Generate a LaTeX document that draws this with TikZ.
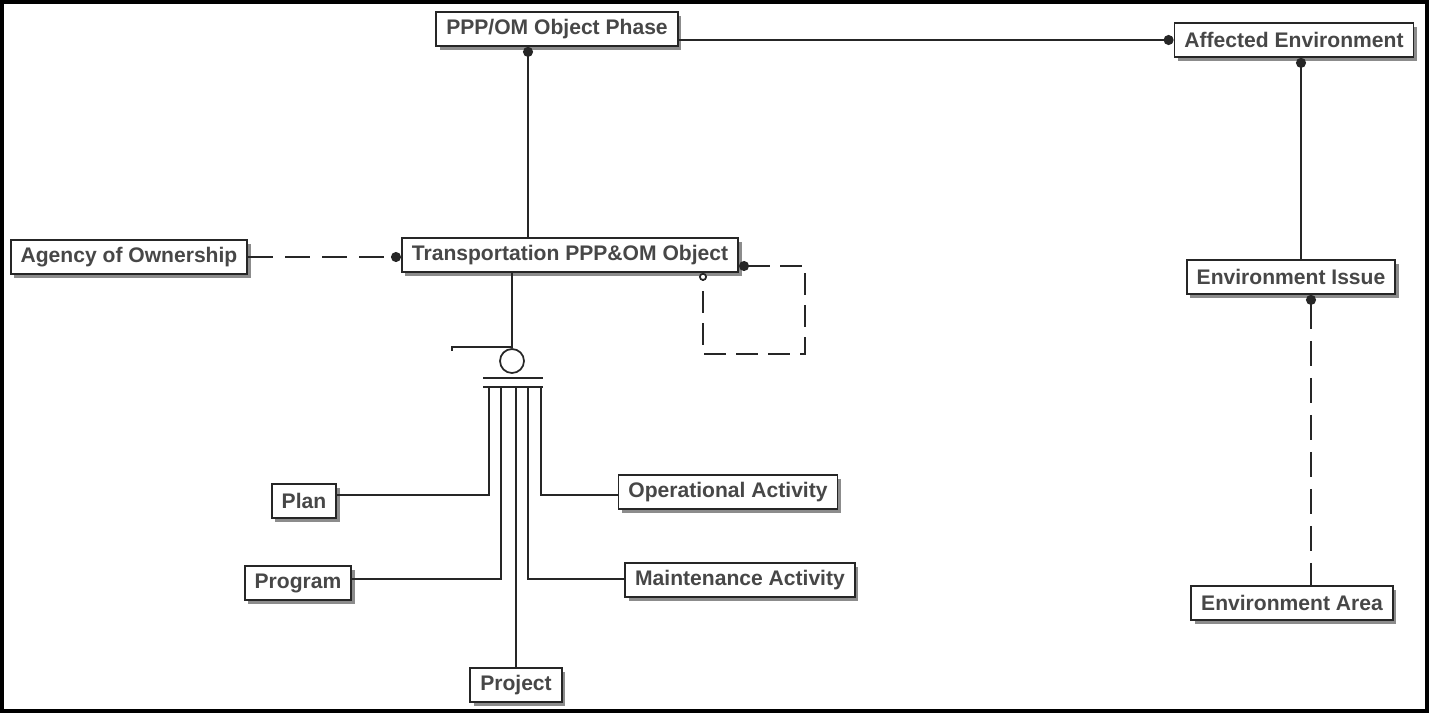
\documentclass[tikz,border=0pt]{standalone}
\usepackage{fontspec}
\setmainfont{Liberation Sans}
\usetikzlibrary{calc,shadows,arrows.meta}

\tikzset{
	ent/.style={draw=black!85, line width=0.35mm, fill=white, text=black!72,
		font=\bfseries\fontsize{12}{14}\selectfont, minimum height=0.68cm, inner xsep=0.2cm,
		drop shadow={shadow xshift=0.07cm, shadow yshift=-0.07cm, fill=black!45, opacity=1}},
	rel/.style={line width=0.35mm, color=black!85},
	dsh/.style={rel, dash pattern=on 0.5cm off 0.24cm},
	dot/.style={{Circle[length=0.2cm]}-},
}

\begin{document}
\begin{tikzpicture}[x=0.02cm, y=-0.02cm]
			%%%%% START %%%%%
			
			\useasboundingbox (0,0) rectangle (1430,714);
			\draw[line width=0.7mm] (2,2) rectangle (1427,711);
			
			\node[ent] (phase) at (557,29) {PPP/OM Object Phase};
			\node[ent] (affect) at (1294,40) {Affected Environment};
			\node[ent] (agency) at (129,257) {Agency of Ownership};
			\node[ent] (trans) at (570,255) {Transportation PPP\&OM Object};
			\node[ent] (issue) at (1291,277) {Environment Issue};
			\node[ent] (area) at (1292,603) {Environment Area};
			
			\node[ent] (plan) at (304,501) {Plan};
			\node[ent] (program) at (298,583) {Program};
			\node[ent] (project) at (516,685) {Project};
			\node[ent] (oper) at (728,492) {Operational Activity};
			\node[ent] (maint) at (740,580) {Maintenance Activity};
			
			% relationships
			\draw[rel, dot] (affect.west) -- (affect.west -| phase.east);
			\coordinate (ph) at ($(phase.south)+(-29,0)$);
			\draw[rel, dot] (ph) -- (ph |- trans.north);
			\draw[dsh, -{Circle[length=0.2cm]}] (agency.east) -- (agency.east -| trans.west);
			\coordinate (af) at ($(affect.south)+(7,0)$);
			\draw[rel, dot] (af) -- (af |- issue.north);
			\coordinate (is) at ($(issue.south)+(20,0)$);
			\draw[dsh, dot] (is) -- (is |- area.north);
			
			% recursive
			\coordinate (tr) at ($(trans.east)+(0,11)$);
			\coordinate (lp) at (703,354);
			\draw[rel, dash pattern=on 0.44cm off 0.2cm, {Circle[length=0.2cm]}-{Circle[open, length=0.16cm, fill=white]}]
				(tr) -- (805,266) -- (805,354) -- (lp) -- (lp |- trans.south);
			
			% subtypes
			\node[draw, circle, rel, minimum size=0.48cm, inner sep=0] (cat) at (512,361) {};
			\draw[rel] ($(trans.south)+(-58,0)$) -- (cat.north);
			\draw[rel] (512,347) -- (452,347) -- (452,351);
			\draw[rel] (483,378) -- (543,378);
			\draw[rel] (483,387) -- (543,387);
			\draw[rel] (489,387) -- (489,495) -- (plan.east |- 489,495);
			\draw[rel] (501,387) -- (501,579) -- (program.east |- 501,579);
			\draw[rel] (project.north) -- (project.north |- 0,387);
			\draw[rel] (528,387) -- (528,579) -- (maint.west |- 528,579);
			\draw[rel] (541,387) -- (541,495) -- (oper.west |- 541,495);
			
			%%%%% END %%%%%
		\end{tikzpicture}
\end{document}
